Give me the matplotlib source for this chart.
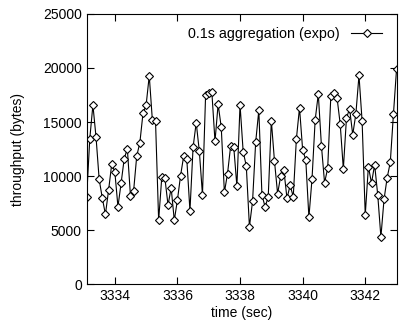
import numpy as np
import matplotlib
matplotlib.use("Agg")
import matplotlib.pyplot as plt

plt.rcParams['font.family'] = ['Liberation Sans', 'DejaVu Sans']

# throughput per 0.1 s bin, starting at t = 3333.1 s
start_time = 3333.1
step = 0.1
throughput = [
    8030, 13450, 16570, 13600, 9690, 7960, 6450, 8670, 11080, 10400,
    7160, 9320, 11600, 12530, 8150, 8610, 11850, 13090, 15800, 16570,
    19290, 15150, 15090, 5900, 9880, 9790, 7310, 8890, 5900, 7780,
    10030, 11850, 11540, 6770, 12660, 14940, 12290, 8270, 17500, 17650,
    17750, 13210, 16640, 14510, 8490, 10210, 12780, 12660, 9040, 16600,
    12260, 10930, 5310, 7650, 13150, 16080, 8240, 7160, 8030, 15120,
    11390, 8370, 10000, 10560, 7930, 9140, 8090, 13430, 16320, 12420,
    11500, 6170, 9750, 15190, 17590, 12810, 9380, 10710, 17380, 17650,
    17220, 14810, 10650, 15370, 16230, 13830, 15740, 19320, 15060, 6390,
    10860, 9350, 11050, 8210, 4350, 7840, 9840, 11270, 15710, 19900,
]
times = start_time + step * np.arange(len(throughput))

fig = plt.figure(figsize=(4.03, 3.25), dpi=100)
ax = fig.add_axes([0.215, 0.126, 0.769, 0.831])

ax.plot(times, throughput, color='black', linewidth=0.8, marker='D',
        markersize=3.6, markerfacecolor='white', markeredgecolor='black',
        markeredgewidth=0.8, label='0.1s aggregation (expo)')

ax.set_xlim(3333.1, 3343.0)
ax.set_ylim(0, 25000)
ax.set_xticks([3334, 3336, 3338, 3340, 3342])
ax.set_yticks([0, 5000, 10000, 15000, 20000, 25000])
ax.tick_params(direction='in', top=True, right=True, length=5, width=0.8,
               labelsize=10)
for s in ax.spines.values():
    s.set_linewidth(0.8)

ax.set_xlabel('time (sec)', fontsize=10, labelpad=2)
ax.set_ylabel('throughput (bytes)', fontsize=10, labelpad=13)

ax.legend(loc='upper right', bbox_to_anchor=(0.977, 0.978), frameon=False,
          markerfirst=False, fontsize=10.3, handlelength=2.2,
          borderaxespad=0.1)

fig.savefig('out.png', dpi=100)
